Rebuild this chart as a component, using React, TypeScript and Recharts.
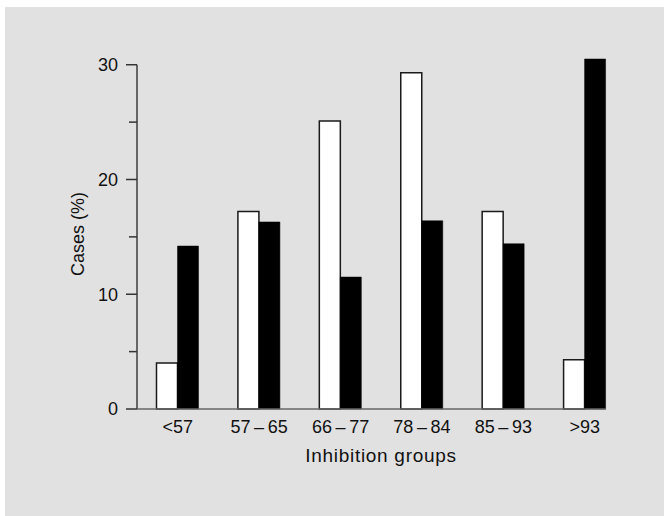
import * as React from "react";
import { Bar, BarChart, ReferenceLine, XAxis, YAxis } from "recharts";

// inhibition groups (thin spaces round the dash, as in the print)
const GROUPS = ["<57", "57\u2009\u2013\u200965", "66\u2009\u2013\u200977", "78\u2009\u2013\u200984", "85\u2009\u2013\u200993", ">93"];
const OPEN_SERIES = [4.0, 17.2, 25.1, 29.3, 17.2, 4.3];
const FILLED_SERIES = [14.2, 16.3, 11.5, 16.4, 14.4, 30.5];
const Y_TICKS = [0, 5, 10, 15, 20, 25, 30];
const Y_LABELLED = [0, 10, 20, 30];

const FONT = "'Liberation Sans', Arial, Helvetica, sans-serif";
const INK = "#111111";
const AXIS = "#666666";

const rows = GROUPS.map((group, i) => ({
  group,
  open: OPEN_SERIES[i],
  filled: FILLED_SERIES[i],
}));

const TICK_SIZE = 11;
const TICK_MARGIN = 8;

function YTick(props: any) {
  const { x, y, payload } = props;
  const major = Y_LABELLED.includes(payload.value);
  const end = x + TICK_MARGIN + TICK_SIZE;
  const start = major ? x + TICK_MARGIN : x + TICK_MARGIN + 3;
  return (
    <g>
      <line x1={start} x2={end} y1={y} y2={y} stroke="#333" strokeWidth={1.5} />
      {major && (
        <text
          x={x}
          y={y}
          dy="0.355em"
          textAnchor="end"
          fill={INK}
          fontSize={18}
          fontFamily={FONT}
        >
          {payload.value}
        </text>
      )}
    </g>
  );
}

export default function App() {
  return (
    <div
      style={{
        position: "absolute",
        left: 5,
        top: 7,
        width: 659,
        height: 509,
        background: "#e1e1e1",
        fontFamily: FONT,
      }}
    >
      <BarChart
        width={659}
        height={509}
        data={rows}
        margin={{ top: 52, right: 58, left: 68, bottom: 47 }}
        barCategoryGap={19.5}
        barGap={0}
      >
        <XAxis
          dataKey="group"
          interval={0}
          padding={{ left: 0, right: -19.5 }}
          tickLine={false}
          tickSize={6}
          tickMargin={5}
          tick={{ fill: INK, fontSize: 18, fontFamily: FONT }}
          axisLine={{ stroke: AXIS, strokeWidth: 1.5 }}
          height={60}
          label={{
            value: "Inhibition groups",
            position: "insideBottom",
            offset: 7,
            dx: 9.5,
            fill: INK,
            fontSize: 19,
            letterSpacing: 0.7,
            fontFamily: FONT,
          }}
        />
        {/* hidden numeric axis, used only to place the y axis line */}
        <XAxis xAxisId="frame" type="number" domain={[0, 1]} hide />
        <YAxis
          domain={[0, "dataMax"]}
          ticks={Y_TICKS}
          interval={0}
          width={64}
          axisLine={false}
          tickLine={false}
          tickSize={TICK_SIZE}
          tickMargin={TICK_MARGIN}
          tick={<YTick />}
          label={{
            value: "Cases (%)",
            angle: -90,
            position: "insideLeft",
            offset: 5,
            fill: INK,
            fontSize: 18,
            fontFamily: FONT,
            style: { textAnchor: "middle" },
          }}
        />
        <ReferenceLine
          xAxisId="frame"
          segment={[
            { x: 0, y: 0 },
            { x: 0, y: 30 },
          ]}
          stroke={AXIS}
          strokeWidth={2}
        />
        <Bar
          dataKey="open"
          fill="#ffffff"
          stroke="#1a1a1a"
          strokeWidth={1.5}
          isAnimationActive={false}
        />
        <Bar
          dataKey="filled"
          fill="#000000"
          stroke="#000000"
          strokeWidth={0.5}
          isAnimationActive={false}
        />
      </BarChart>
    </div>
  );
}
